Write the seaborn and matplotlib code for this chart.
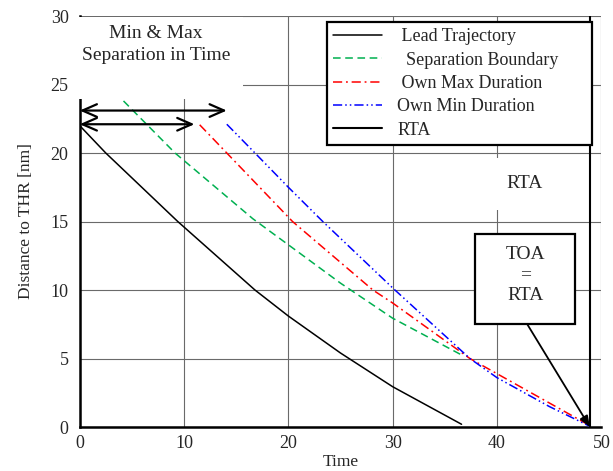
import matplotlib
matplotlib.use("Agg")
import matplotlib.pyplot as plt
from matplotlib.patches import Rectangle
import seaborn as sns
import pandas as pd

# ---- data ----
lead_x = [0, 2.5, 9.4, 16.8, 20, 25, 30, 36.6]
lead_y = [22.0, 20, 15, 10, 8.1, 5.4, 2.94, 0.2]

sep_x = [4.2, 9.14, 16.6, 20, 25, 30, 36.6]
sep_y = [23.8, 20, 15.2, 13.3, 10.5, 7.94, 5.26]

max_x = [11.5, 14.1, 20.4, 28.1, 30, 37.4, 40, 45, 48.9]
max_y = [22.06, 20, 15, 10, 9.05, 5.0, 3.89, 1.76, 0.1]

min_x = [14.1, 16.8, 20, 23.3, 30, 37.4, 40, 45, 48.9]
min_y = [22.1, 20, 17.5, 15, 10.15, 5.0, 3.6, 1.5, 0.05]

rta = 48.9
sep_arrow_y = [23.1, 22.1]
sep_arrow_x_end = [14.1, 11.0]

labels = [" Lead Trajectory", "  Separation Boundary" + "\u2007" * 3,
          " Own Max Duration", "Own Min Duration", "RTA"]
x_ticks = [0, 10, 20, 30, 40, 50]
y_ticks = [0, 5, 10, 15, 20, 25, 30]

sns.set_style("white")
plt.rcParams['font.family'] = ['Liberation Serif', 'DejaVu Serif']
plt.rcParams['font.size'] = 13

fig = plt.figure(figsize=(6.13, 4.71), dpi=100)
ax = fig.add_axes([0.130, 0.0934, 0.851, 0.8726])

series = [
    (lead_x, lead_y, "black", "-", labels[0]),
    (sep_x, sep_y, "#00b050", (0, (5, 3)), labels[1]),
    (max_x, max_y, "red", (0, (6, 2.5, 1.2, 2.5)), labels[2]),
    (min_x, min_y, "blue", (0, (6, 2, 1, 2, 1, 2)), labels[3]),
]
for xs, ys, c, ls, lab in series:
    df = pd.DataFrame({"x": xs, "y": ys})
    sns.lineplot(data=df, x="x", y="y", color=c, linestyle=ls, lw=1.1,
                 sort=False, estimator=None, label=lab, ax=ax, zorder=3)

ax.axvline(rta, color="black", lw=1.5, label=labels[4], zorder=3)

ax.set_xlim(0, 50)
ax.set_ylim(0, 30)
ax.set_xticks(x_ticks)
ax.set_yticks(y_ticks)
ax.grid(True, color="#6a6a6a", lw=0.8)
ax.tick_params(length=0, labelsize=13)
ax.tick_params(axis="y", pad=8)
ax.tick_params(axis="x", pad=6)
for s in ["top", "right"]:
    ax.spines[s].set_visible(False)
for s in ["left", "bottom"]:
    ax.spines[s].set_color("black")
    ax.spines[s].set_linewidth(1.8)
ax.set_xlabel("Time", fontsize=12.5, labelpad=1)
ax.set_ylabel("Distance to THR [nm]", fontsize=12.5, labelpad=12)

# white area behind the top-left title
ax.add_patch(Rectangle((-0.6, 23.95), 16.3, 5.95, facecolor="white",
                       edgecolor="none", zorder=4, clip_on=False))
ax.text(7.3, 27.9, "Min & Max\nSeparation in Time", ha="center", va="center",
        fontsize=14, linespacing=1.4, zorder=5)

# double arrows
for yv, xe in zip(sep_arrow_y, sep_arrow_x_end):
    ax.annotate("", xy=(0, yv), xytext=(xe, yv),
                arrowprops=dict(arrowstyle="<->,head_length=0.8,head_width=0.35",
                                color="black", lw=1.6, shrinkA=0, shrinkB=0),
                zorder=5, annotation_clip=False)

# RTA label
ax.text(42.6, 17.75, "RTA", ha="center", va="center", fontsize=14, zorder=5,
        bbox=dict(boxstyle="square,pad=0.9", facecolor="white", edgecolor="none"))

# TOA = RTA box with arrow
ax.add_patch(Rectangle((37.9, 7.5), 9.6, 6.6, facecolor="white",
                       edgecolor="black", lw=1.6, zorder=5))
ax.text(42.7, 11.1, "TOA\n=\nRTA", ha="center", va="center", fontsize=14,
        linespacing=1.3, zorder=6)
ax.annotate("", xy=(rta, 0), xytext=(42.9, 7.5),
            arrowprops=dict(arrowstyle="-|>,head_length=0.5,head_width=0.2",
                            color="black", lw=1.3, shrinkA=0, shrinkB=0),
            zorder=6)

leg = ax.legend(loc="upper right", bbox_to_anchor=(0.982, 0.985),
                frameon=True, fancybox=False, framealpha=1, edgecolor="black",
                fontsize=13, handlelength=2.7, handletextpad=0.85,
                labelspacing=0.35, borderpad=0.35, borderaxespad=0)
leg.get_frame().set_linewidth(1.6)
leg.set_zorder(7)

fig.savefig("out.png", dpi=100)
